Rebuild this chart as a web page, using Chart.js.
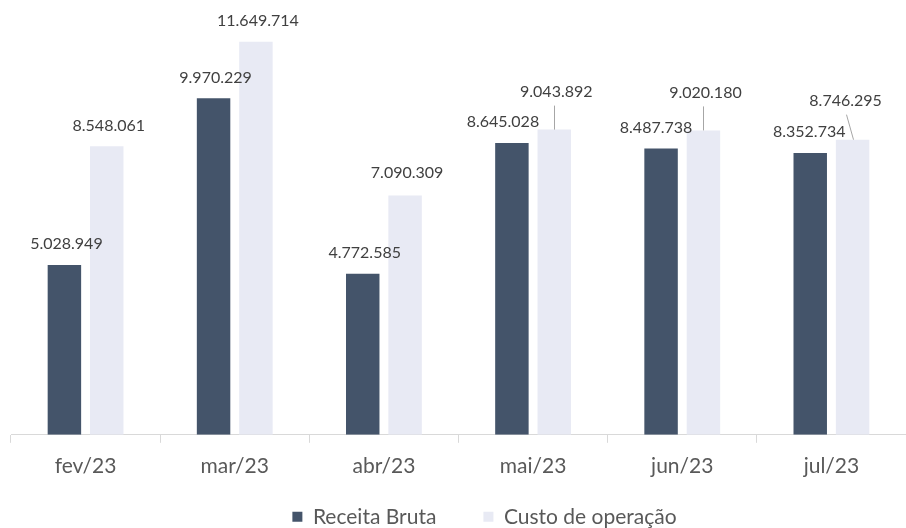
<!DOCTYPE html>
<html>
<head>
<meta charset="utf-8">
<script src="https://cdn.jsdelivr.net/npm/chart.js@4.4.0/dist/chart.umd.min.js"></script>
<style>
  body { margin: 0; background: #fff; }
  #wrap { width: 906px; height: 528px; }
</style>
</head>
<body>
<div id="wrap"><canvas id="myChart"></canvas></div>
<script>
const months = ['fev/23', 'mar/23', 'abr/23', 'mai/23', 'jun/23', 'jul/23'];
const receitaBruta = [5028949, 9970229, 4772585, 8645028, 8487738, 8352734];
const custoOperacao = [8548061, 11649714, 7090309, 9043892, 9020180, 8746295];

// label nudges per dataset/bar: [dx, dy, leader start dx]
const labelNudge = [
  [[2, 0], [2, 0], [2, 0], [-9, 0], [-5, 0], [-1, 0]],
  [[2, 0], [2, 0], [2, -2], [2, -17, 0], [2, -17, 0], [-7, -18, -7]]
];

function fmt(n) {
  return String(n).replace(/\B(?=(\d{3})+(?!\d))/g, '.');
}

// draws the value over each bar, with a thin line when the label was moved up
const valueLabels = {
  id: 'valueLabels',
  afterDatasetsDraw(chart) {
    const ctx = chart.ctx;
    ctx.save();
    ctx.font = '16px Lato';
    ctx.fillStyle = '#404040';
    ctx.textAlign = 'center';
    ctx.textBaseline = 'middle';
    chart.data.datasets.forEach((ds, i) => {
      chart.getDatasetMeta(i).data.forEach((bar, j) => {
        const n = labelNudge[i][j];
        const x = bar.x + n[0];
        const y = bar.y - 21 + n[1];
        ctx.fillText(fmt(ds.data[j]), x, y);
        if (n[2] !== undefined) {
          ctx.beginPath();
          ctx.strokeStyle = '#a6a6a6';
          ctx.lineWidth = 1;
          ctx.moveTo(Math.round(bar.x + n[2]) + 0.5, y + 14);
          ctx.lineTo(Math.round(bar.x) + 0.5, bar.y);
          ctx.stroke();
        }
      });
    });
    ctx.restore();
  }
};

// legend sits closer to the axis and a little right of centre in the original
const legendShift = {
  id: 'legendShift',
  afterLayout(chart) {
    const lg = chart.legend;
    const h = lg.bottom - lg.top;
    lg.top = chart.chartArea.bottom + 24.5;
    lg.bottom = lg.top + h;
    lg.left += 19;
    lg.right += 19;
  }
};

const ctx = document.getElementById('myChart').getContext('2d');
const myChart = new Chart(ctx, {
  type: 'bar',
  data: {
    labels: months,
    datasets: [
      {
        label: 'Receita Bruta',
        data: receitaBruta,
        backgroundColor: '#44546a',
        borderWidth: 0,
        categoryPercentage: 0.568,
        barPercentage: 0.79
      },
      {
        label: 'Custo de operação',
        data: custoOperacao,
        backgroundColor: '#e8eaf4',
        borderWidth: 0,
        categoryPercentage: 0.568,
        barPercentage: 0.79
      }
    ]
  },
  options: {
    responsive: true,
    maintainAspectRatio: false,
    animation: false,
    layout: { padding: { top: 13, left: 11, right: -14, bottom: -40 } },
    scales: {
      x: {
        grid: { drawOnChartArea: false, drawTicks: true, tickLength: 8, color: '#d9d9d9', offset: true },
        border: { display: true, color: '#d9d9d9' },
        ticks: { color: '#595959', font: { family: 'Lato', size: 21 }, padding: 11 }
      },
      y: { display: false, min: 0, max: 12500000 }
    },
    plugins: {
      legend: {
        position: 'bottom',
        labels: {
          boxWidth: 10,
          boxHeight: 10,
          padding: 47,
          color: '#595959',
          font: { family: 'Lato', size: 21 }
        }
      },
      tooltip: { enabled: false }
    }
  },
  plugins: [valueLabels, legendShift]
});
</script>
</body>
</html>
